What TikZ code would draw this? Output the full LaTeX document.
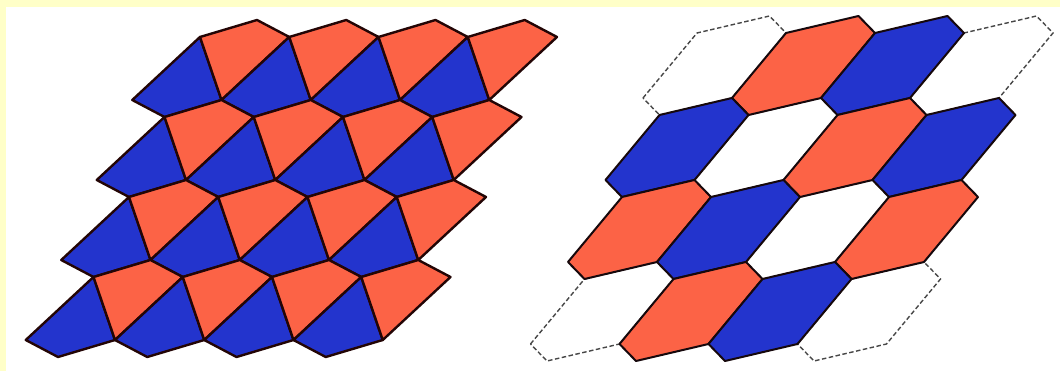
\documentclass[tikz,border=0pt]{standalone}
\definecolor{tred}{RGB}{252,99,70}
\definecolor{tblue}{RGB}{35,52,205}
\definecolor{framey}{RGB}{255,255,200}
\definecolor{edgel}{RGB}{35,5,5}
\definecolor{edger}{RGB}{22,8,12}
\begin{document}
\begin{tikzpicture}[x=1pt,y=-1pt,
  redtile/.style={fill=tred,draw=edgel,line width=2.4pt,line join=round},
  bluetile/.style={fill=tblue,draw=edgel,line width=2.4pt,line join=round},
  hexred/.style={fill=tred,draw=edger,line width=2pt,line join=round},
  hexblue/.style={fill=tblue,draw=edger,line width=2pt,line join=round},
  hexwhite/.style={fill=white,draw=black!72,line width=1.4pt,dash pattern=on 4.5pt off 2.5pt}]
\useasboundingbox (0,0) rectangle (1060,371);
\fill[framey] (0,0) rectangle (1060,371);
\fill[white] (6,7) rectangle (1060,371);
% left tiling: quadrilaterals (red) and their 180-degree copies (blue)
\foreach \r in {0,...,3}{
  \foreach \c in {-1,...,3}{
    \pgfmathsetmacro\px{200+89.25*\c-35.5*\r}
    \pgfmathsetmacro\py{37+80*\r}
    \ifnum\c>-1
      \draw[redtile] (\px,\py) -- (\px+57,\py-17) -- (\px+89.25,\py) -- (\px+21.5,\py+63) -- cycle;
    \fi
    \ifnum\c<3
      \draw[bluetile] (\px+89.25,\py) -- (\px+110.75,\py+63) -- (\px+53.75,\py+80) -- (\px+21.5,\py+63) -- cycle;
    \fi
  }
}
% right tiling: hexagons
\foreach \r in {0,...,3}{
  \foreach \c in {0,...,3}{
    \pgfmathsetmacro\hx{643+89*\c-37.5*\r}
    \pgfmathsetmacro\hy{98+82*\r}
    \pgfmathtruncatemacro\k{mod(\c-\r+6,3)}
    \ifnum\k=0
      \draw[hexwhite] (\hx,\hy) -- ++(54,-65) -- ++(72.5,-17) -- ++(16.5,17) -- ++(-54,65) -- ++(-72.5,17) -- cycle;
    \fi
  }
}
\foreach \r in {0,...,3}{
  \foreach \c in {0,...,3}{
    \pgfmathsetmacro\hx{643+89*\c-37.5*\r}
    \pgfmathsetmacro\hy{98+82*\r}
    \pgfmathtruncatemacro\k{mod(\c-\r+6,3)}
    \ifnum\k=1
      \draw[hexred] (\hx,\hy) -- ++(54,-65) -- ++(72.5,-17) -- ++(16.5,17) -- ++(-54,65) -- ++(-72.5,17) -- cycle;
    \fi
    \ifnum\k=2
      \draw[hexblue] (\hx,\hy) -- ++(54,-65) -- ++(72.5,-17) -- ++(16.5,17) -- ++(-54,65) -- ++(-72.5,17) -- cycle;
    \fi
  }
}
\end{tikzpicture}
\end{document}
